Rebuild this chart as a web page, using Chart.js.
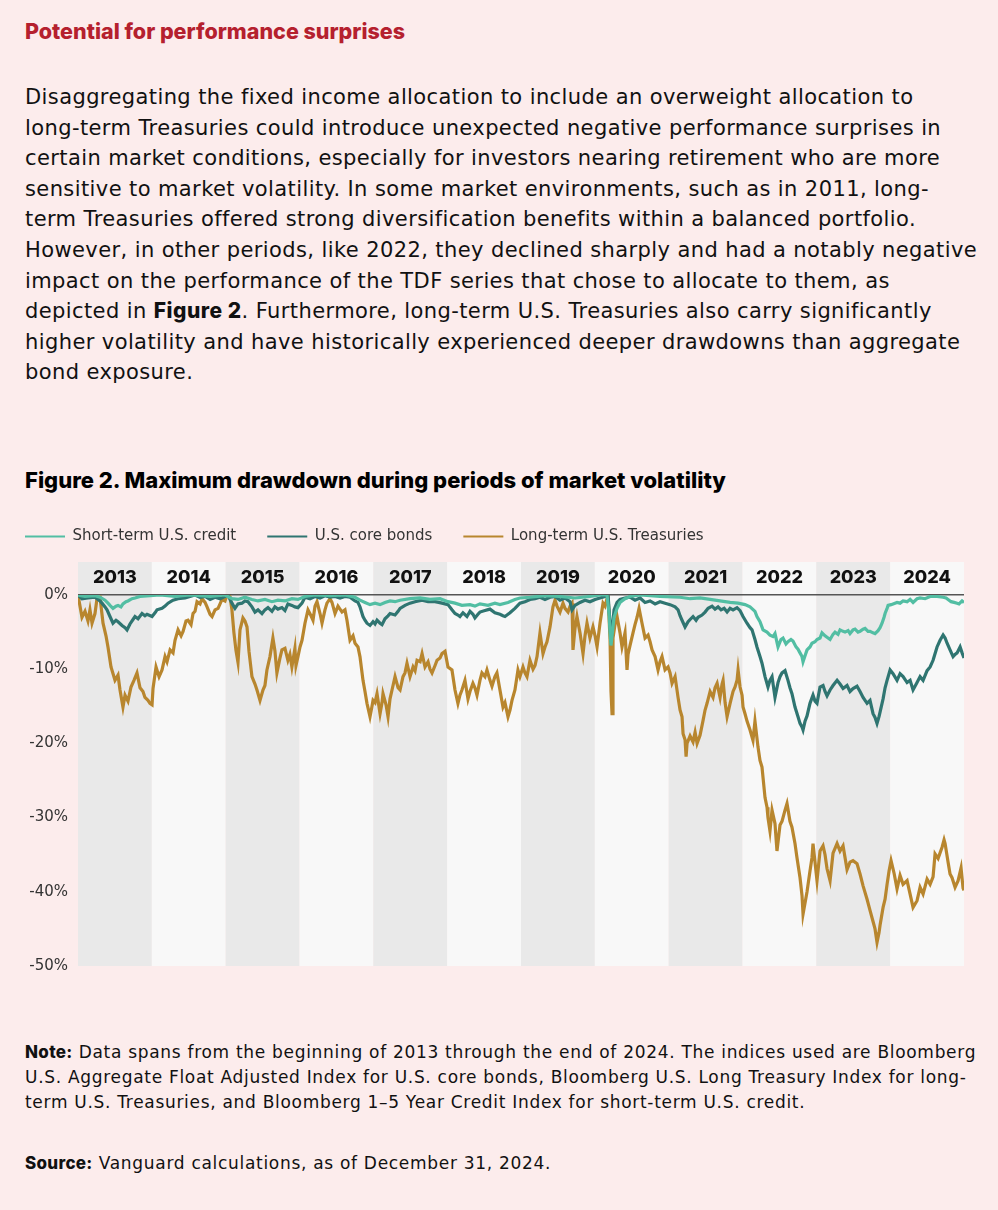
<!DOCTYPE html>
<html>
<head>
<meta charset="utf-8">
<script src="https://cdn.jsdelivr.net/npm/chart.js@4.4.1/dist/chart.umd.min.js"></script>
<style>
  body { margin: 0; width: 998px; height: 1210px; background: #fcecec; font-family: "DejaVu Sans", sans-serif; color: #111; position: relative; overflow: hidden; }
  .heading { position: absolute; left: 25px; top: 18px; font-family: Inter, sans-serif; font-size: 21.5px; line-height: 26px; font-weight: 800; color: #b5202e; }
  .para { position: absolute; left: 25px; top: 82px; font-size: 21px; line-height: 30.6px; letter-spacing: 0.4px; white-space: nowrap; color: #111; }
  .para b { font-family: Inter, sans-serif; font-weight: 800; letter-spacing: 0.5px; }
  .figtitle { position: absolute; left: 25px; top: 467px; font-family: Inter, sans-serif; font-size: 22px; line-height: 26px; font-weight: 800; color: #000; }
  .chartbox { position: absolute; left: -6px; top: 498px; width: 970px; height: 487px; }
  .note { position: absolute; left: 25px; top: 1040px; font-size: 17px; line-height: 25px; letter-spacing: 0.7px; white-space: nowrap; color: #111; }
  .source { position: absolute; left: 25px; top: 1151px; font-size: 17px; line-height: 25px; letter-spacing: 0.7px; color: #111; }
  .note b, .source b { font-family: Inter, sans-serif; font-weight: 800; letter-spacing: 0.3px; }
</style>
</head>
<body>
<div class="heading">Potential for performance surprises</div>
<div class="para">
Disaggregating the fixed income allocation to include an overweight allocation to<br>
long-term Treasuries could introduce unexpected negative performance surprises in<br>
certain market conditions, especially for investors nearing retirement who are more<br>
sensitive to market volatility. In some market environments, such as in 2011, long-<br>
term Treasuries offered strong diversification benefits within a balanced portfolio.<br>
However, in other periods, like 2022, they declined sharply and had a notably negative<br>
impact on the performance of the TDF series that chose to allocate to them, as<br>
depicted in <b>Figure 2</b>. Furthermore, long-term U.S. Treasuries also carry significantly<br>
higher volatility and have historically experienced deeper drawdowns than aggregate<br>
bond exposure.
</div>
<div class="figtitle">Figure 2. Maximum drawdown during periods of market volatility</div>
<div class="chartbox"><canvas id="myChart"></canvas></div>
<div class="note"><b>Note:</b> Data spans from the beginning of 2013 through the end of 2024. The indices used are Bloomberg<br>
U.S. Aggregate Float Adjusted Index for U.S. core bonds, Bloomberg U.S. Long Treasury Index for long-<br>
term U.S. Treasuries, and Bloomberg 1–5 Year Credit Index for short-term U.S. credit.</div>
<div class="source"><b>Source:</b> Vanguard calculations, as of December 31, 2024.</div>

<script>
// year columns shown across the top of the chart
const years = [2013, 2014, 2015, 2016, 2017, 2018, 2019, 2020, 2021, 2022, 2023, 2024];
const yTicks = [0, -10, -20, -30, -40, -50];
const seriesNames = ['Short-term U.S. credit', 'U.S. core bonds', 'Long-term U.S. Treasuries'];
const seriesColors = ['#52bea3', '#2f7571', '#b8862e'];

// drawdown (%), [decimal year, value]
const shortCredit = [
  [2013.000, 0], [2013.095, -0.2], [2013.230, -0.1], [2013.298, -0.3], [2013.366, -0.7], [2013.406, -1.1],
  [2013.433, -1.4], [2013.474, -1.8], [2013.515, -1.5], [2013.542, -1.4], [2013.582, -1.6], [2013.609, -1.2],
  [2013.650, -0.9], [2013.677, -0.8], [2013.731, -0.5], [2013.772, -0.4], [2013.840, -0.2], [2013.975, -0.1],
  [2014.111, 0], [2014.314, -0.2], [2014.517, 0], [2014.789, -0.2], [2014.991, 0],
  [2015.085, -0.5], [2015.167, -0.6], [2015.261, -0.3], [2015.356, -0.6], [2015.438, -0.8], [2015.532, -0.6],
  [2015.627, -0.9], [2015.708, -0.7], [2015.803, -0.8], [2015.897, -0.5], [2015.979, -0.6],
  [2016.074, -0.2], [2016.210, 0], [2016.413, -0.1], [2016.616, 0], [2016.752, -0.3], [2016.819, -0.7],
  [2016.887, -1.0], [2016.955, -1.3], [2017.023, -1.1], [2017.091, -1.3], [2017.158, -1.0], [2017.226, -0.8],
  [2017.294, -0.9], [2017.362, -0.7], [2017.497, -0.5], [2017.633, -0.4], [2017.768, -0.6], [2017.903, -0.5],
  [2018.011, -0.9], [2018.106, -1.1], [2018.200, -1.4], [2018.309, -1.3], [2018.376, -1.5], [2018.444, -1.2],
  [2018.553, -1.4], [2018.647, -1.1], [2018.715, -1.3], [2018.824, -1.0], [2018.918, -0.6], [2018.986, -0.4],
  [2019.122, -0.3], [2019.325, -0.1], [2019.528, -0.2], [2019.731, -0.4], [2019.934, -0.2],
  [2020.070, 0], [2020.165, 0], [2020.192, -2.5], [2020.206, -5.0], [2020.219, -6.8], [2020.233, -5.5],
  [2020.260, -3.0], [2020.301, -1.8], [2020.341, -1.0], [2020.409, -0.5], [2020.477, -0.2], [2020.612, 0],
  [2020.883, -0.2], [2021.154, -0.3], [2021.290, -0.5], [2021.425, -0.4], [2021.561, -0.6], [2021.696, -0.8],
  [2021.832, -1.0], [2021.940, -1.1], [2022.034, -1.3], [2022.102, -1.6], [2022.169, -2.2], [2022.196, -2.9],
  [2022.237, -3.6], [2022.278, -4.7], [2022.332, -5.0], [2022.372, -5.4], [2022.413, -5.6], [2022.440, -5.2],
  [2022.481, -7.0], [2022.521, -6.0], [2022.549, -5.8], [2022.589, -6.6], [2022.616, -6.3], [2022.657, -6.0],
  [2022.684, -6.2], [2022.725, -7.0], [2022.752, -7.3], [2022.779, -7.8], [2022.806, -8.3], [2022.820, -9.0],
  [2022.847, -8.2], [2022.874, -7.4], [2022.914, -7.0], [2022.941, -6.5], [2022.982, -6.3],
  [2023.009, -6.0], [2023.050, -5.8], [2023.077, -5.1], [2023.118, -5.5], [2023.145, -5.7], [2023.186, -6.0],
  [2023.226, -5.3], [2023.253, -5.0], [2023.294, -5.3], [2023.321, -4.7], [2023.362, -4.9], [2023.389, -5.0],
  [2023.430, -4.8], [2023.456, -5.2], [2023.497, -4.7], [2023.524, -4.6], [2023.565, -5.0], [2023.592, -4.9],
  [2023.633, -4.6], [2023.660, -4.5], [2023.700, -4.9], [2023.727, -4.9], [2023.768, -5.1], [2023.795, -5.2],
  [2023.836, -4.8], [2023.863, -4.4], [2023.890, -3.8], [2023.917, -3.0], [2023.931, -2.5], [2023.958, -1.8],
  [2023.972, -1.4], [2024.012, -1.3], [2024.039, -1.2], [2024.093, -1.0], [2024.134, -1.1], [2024.175, -0.8],
  [2024.229, -0.9], [2024.270, -0.6], [2024.310, -1.0], [2024.364, -0.5], [2024.405, -0.4], [2024.473, -0.5],
  [2024.541, -0.2], [2024.635, -0.2], [2024.717, -0.3], [2024.757, -0.4], [2024.784, -0.6], [2024.825, -0.9],
  [2024.866, -1.0], [2024.906, -1.1], [2024.933, -1.2], [2024.974, -0.8], [2025.000, -1.0]
];

const coreBonds = [
  [2013.000, 0], [2013.054, -0.5], [2013.135, -0.4], [2013.230, -0.3], [2013.298, -0.8], [2013.325, -1.1],
  [2013.366, -1.6], [2013.393, -2.0], [2013.433, -2.9], [2013.474, -3.8], [2013.515, -3.4], [2013.542, -3.6],
  [2013.596, -4.1], [2013.637, -4.4], [2013.664, -4.7], [2013.704, -3.9], [2013.745, -3.3], [2013.772, -2.9],
  [2013.813, -3.2], [2013.867, -2.5], [2013.907, -2.8], [2013.935, -2.6], [2014.003, -2.9], [2014.043, -2.4],
  [2014.070, -2.0], [2014.138, -1.8], [2014.179, -1.5], [2014.220, -1.1], [2014.287, -0.7], [2014.355, -0.5],
  [2014.450, -0.4], [2014.517, -0.2], [2014.585, 0], [2014.653, -0.3], [2014.721, -0.2], [2014.789, -0.6],
  [2014.856, -0.3], [2014.924, -0.5], [2014.991, -0.2], [2015.031, 0], [2015.085, -1.1], [2015.126, -1.8],
  [2015.167, -1.2], [2015.221, -1.1], [2015.261, -0.8], [2015.302, -0.9], [2015.356, -1.6], [2015.397, -2.3],
  [2015.438, -2.0], [2015.492, -2.5], [2015.532, -2.0], [2015.573, -1.7], [2015.627, -2.2], [2015.667, -1.6],
  [2015.708, -1.9], [2015.762, -1.7], [2015.803, -2.1], [2015.843, -1.2], [2015.897, -1.4], [2015.938, -1.6],
  [2015.979, -1.7], [2016.034, -1.1], [2016.074, -0.3], [2016.142, -0.5], [2016.210, -0.2], [2016.278, -0.4],
  [2016.345, -0.1], [2016.413, -0.3], [2016.481, -0.2], [2016.549, -0.4], [2016.616, -0.2], [2016.684, -0.3],
  [2016.752, -0.8], [2016.792, -1.0], [2016.819, -1.6], [2016.860, -2.9], [2016.887, -3.4], [2016.914, -3.8],
  [2016.955, -4.1], [2016.996, -3.6], [2017.023, -3.9], [2017.050, -3.4], [2017.091, -3.8], [2017.118, -4.0],
  [2017.158, -3.2], [2017.199, -2.8], [2017.226, -2.5], [2017.294, -2.7], [2017.335, -2.2], [2017.362, -1.8],
  [2017.429, -1.4], [2017.497, -1.1], [2017.565, -0.9], [2017.660, -0.7], [2017.741, -0.9], [2017.836, -0.9],
  [2017.930, -1.1], [2018.011, -1.3], [2018.065, -2.0], [2018.106, -2.5], [2018.146, -2.7], [2018.173, -2.9],
  [2018.214, -2.4], [2018.268, -2.9], [2018.309, -2.2], [2018.349, -2.6], [2018.376, -3.1], [2018.417, -2.6],
  [2018.444, -2.3], [2018.512, -2.1], [2018.580, -1.9], [2018.647, -2.4], [2018.715, -2.6], [2018.756, -2.8],
  [2018.783, -2.9], [2018.824, -2.6], [2018.851, -2.4], [2018.918, -1.8], [2018.986, -1.1], [2019.054, -0.9],
  [2019.122, -0.6], [2019.190, -0.5], [2019.257, -0.3], [2019.325, -0.6], [2019.393, -0.3], [2019.461, -0.2],
  [2019.528, -0.7], [2019.596, -0.4], [2019.664, -0.9], [2019.691, -2.0], [2019.731, -1.4], [2019.799, -1.0],
  [2019.867, -0.7], [2019.934, -0.9], [2020.003, -0.6], [2020.070, -0.4], [2020.138, -0.2], [2020.179, 0],
  [2020.206, -3.8], [2020.219, -6.3], [2020.233, -5.0], [2020.260, -2.0], [2020.301, -1.0], [2020.341, -0.6],
  [2020.409, -0.4], [2020.477, -0.3], [2020.544, -0.7], [2020.612, -0.4], [2020.680, -1.0], [2020.748, -0.8],
  [2020.816, -1.2], [2020.883, -0.9], [2020.951, -1.1], [2021.019, -1.3], [2021.087, -1.6], [2021.127, -2.0],
  [2021.154, -2.8], [2021.181, -3.4], [2021.222, -4.3], [2021.263, -3.6], [2021.290, -3.3], [2021.330, -2.9],
  [2021.371, -3.4], [2021.398, -3.0], [2021.452, -2.7], [2021.493, -2.3], [2021.534, -1.8], [2021.588, -1.5],
  [2021.628, -1.9], [2021.669, -1.6], [2021.710, -2.0], [2021.751, -1.8], [2021.791, -2.3], [2021.832, -1.8],
  [2021.872, -2.0], [2021.926, -1.7], [2021.967, -2.1], [2022.007, -2.9], [2022.061, -3.8], [2022.102, -4.4],
  [2022.129, -4.7], [2022.169, -6.0], [2022.196, -7.0], [2022.237, -8.3], [2022.264, -9.2], [2022.305, -11.0],
  [2022.345, -12.4], [2022.372, -11.5], [2022.400, -11.0], [2022.440, -13.8], [2022.481, -11.8], [2022.508, -11.0],
  [2022.535, -10.5], [2022.576, -10.2], [2022.616, -11.5], [2022.643, -12.5], [2022.670, -13.3], [2022.711, -15.1],
  [2022.752, -16.4], [2022.779, -17.3], [2022.806, -17.8], [2022.820, -18.2], [2022.847, -17.0], [2022.874, -16.3],
  [2022.914, -14.6], [2022.955, -13.5], [2022.982, -14.3], [2023.009, -14.6], [2023.050, -12.4], [2023.091, -12.2],
  [2023.118, -13.0], [2023.145, -13.6], [2023.186, -12.8], [2023.226, -12.2], [2023.281, -11.5], [2023.321, -12.0],
  [2023.362, -12.6], [2023.416, -12.2], [2023.456, -13.0], [2023.497, -12.6], [2023.551, -12.3], [2023.592, -13.0],
  [2023.633, -13.8], [2023.687, -14.6], [2023.727, -14.2], [2023.768, -16.0], [2023.795, -16.5], [2023.822, -17.3],
  [2023.849, -16.4], [2023.863, -15.8], [2023.904, -14.0], [2023.931, -12.5], [2023.958, -11.5], [2023.999, -10.1],
  [2024.039, -10.6], [2024.093, -11.5], [2024.134, -10.6], [2024.175, -11.0], [2024.229, -11.8], [2024.270, -11.5],
  [2024.310, -12.8], [2024.364, -11.8], [2024.405, -11.0], [2024.446, -11.5], [2024.500, -10.2], [2024.541, -9.7],
  [2024.581, -8.8], [2024.635, -7.0], [2024.676, -6.1], [2024.717, -5.4], [2024.744, -5.8], [2024.771, -6.5],
  [2024.811, -7.4], [2024.852, -8.3], [2024.879, -8.0], [2024.906, -7.8], [2024.947, -7.0], [2024.974, -7.8],
  [2025.000, -8.5]
];

const longTreasuries = [
  [2013.000, 0], [2013.027, -1.5], [2013.054, -3.0], [2013.095, -2.2], [2013.135, -3.5], [2013.162, -2.0],
  [2013.190, -3.8], [2013.230, -2.5], [2013.257, -0.5], [2013.298, -0.3], [2013.339, -3.8], [2013.379, -5.5],
  [2013.406, -7.0], [2013.447, -9.7], [2013.501, -11.5], [2013.542, -10.8], [2013.569, -12.8], [2013.609, -15.1],
  [2013.637, -13.5], [2013.677, -14.3], [2013.718, -12.4], [2013.758, -11.5], [2013.799, -10.5], [2013.840, -12.5],
  [2013.880, -13.0], [2013.907, -13.8], [2013.948, -14.2], [2013.975, -14.6], [2014.003, -14.8], [2014.016, -12.6],
  [2014.057, -9.7], [2014.098, -11.0], [2014.138, -10.1], [2014.179, -8.3], [2014.206, -9.0], [2014.247, -7.4],
  [2014.287, -7.8], [2014.314, -6.1], [2014.355, -4.7], [2014.396, -5.5], [2014.423, -4.9], [2014.463, -3.5],
  [2014.490, -3.4], [2014.531, -4.0], [2014.558, -2.5], [2014.585, -2.2], [2014.612, -0.9], [2014.653, -1.2],
  [2014.680, -0.5], [2014.721, -1.0], [2014.748, -1.6], [2014.789, -2.6], [2014.816, -2.9], [2014.856, -2.0],
  [2014.897, -1.8], [2014.951, -0.6], [2014.991, -0.8], [2015.018, 0], [2015.058, -0.2], [2015.085, -2.0],
  [2015.112, -5.1], [2015.140, -7.5], [2015.167, -9.1], [2015.194, -4.7], [2015.234, -3.1], [2015.261, -3.5],
  [2015.289, -4.3], [2015.316, -7.6], [2015.356, -11.0], [2015.397, -12.0], [2015.424, -12.8], [2015.465, -14.2],
  [2015.505, -12.8], [2015.532, -12.2], [2015.559, -10.1], [2015.600, -8.3], [2015.640, -5.8], [2015.667, -7.5],
  [2015.694, -10.5], [2015.735, -8.5], [2015.762, -7.4], [2015.803, -7.2], [2015.843, -8.8], [2015.870, -8.0],
  [2015.897, -9.7], [2015.938, -7.2], [2015.952, -9.5], [2015.979, -8.3], [2016.007, -7.0], [2016.034, -6.1],
  [2016.074, -3.8], [2016.115, -2.0], [2016.156, -2.8], [2016.183, -3.4], [2016.210, -1.5], [2016.237, -0.9],
  [2016.278, -2.5], [2016.305, -3.8], [2016.345, -2.0], [2016.372, -1.1], [2016.413, -0.5], [2016.440, -1.0],
  [2016.481, -2.5], [2016.521, -1.5], [2016.576, -2.3], [2016.616, -2.0], [2016.643, -3.4], [2016.684, -6.1],
  [2016.725, -5.5], [2016.752, -6.5], [2016.792, -7.0], [2016.819, -8.3], [2016.860, -11.5], [2016.887, -13.0],
  [2016.914, -14.6], [2016.955, -16.4], [2016.982, -15.0], [2016.996, -14.2], [2017.023, -14.5], [2017.050, -13.3],
  [2017.091, -16.0], [2017.118, -14.5], [2017.131, -13.3], [2017.172, -14.8], [2017.199, -16.4], [2017.226, -14.0],
  [2017.253, -12.8], [2017.294, -11.0], [2017.335, -12.5], [2017.362, -12.8], [2017.402, -11.0], [2017.429, -10.5],
  [2017.456, -9.2], [2017.497, -11.0], [2017.538, -9.7], [2017.565, -10.2], [2017.592, -8.8], [2017.633, -9.0],
  [2017.660, -7.9], [2017.700, -9.7], [2017.741, -9.0], [2017.768, -10.0], [2017.795, -10.5], [2017.836, -9.5],
  [2017.863, -8.8], [2017.903, -8.5], [2017.930, -7.9], [2017.971, -7.6], [2018.011, -9.7], [2018.065, -10.1],
  [2018.106, -12.8], [2018.146, -14.6], [2018.173, -13.5], [2018.200, -12.8], [2018.241, -11.5], [2018.282, -14.0],
  [2018.309, -13.0], [2018.349, -11.9], [2018.376, -12.5], [2018.404, -13.5], [2018.444, -11.5], [2018.471, -10.5],
  [2018.512, -11.0], [2018.539, -10.1], [2018.580, -11.5], [2018.607, -12.3], [2018.647, -11.0], [2018.674, -10.5],
  [2018.715, -12.8], [2018.756, -15.1], [2018.783, -14.5], [2018.824, -16.4], [2018.851, -15.5], [2018.878, -14.2],
  [2018.918, -12.8], [2018.959, -10.1], [2018.986, -11.0], [2019.027, -9.7], [2019.054, -10.5], [2019.081, -11.0],
  [2019.122, -8.8], [2019.163, -10.0], [2019.190, -9.5], [2019.217, -8.3], [2019.257, -5.1], [2019.298, -7.9],
  [2019.325, -7.0], [2019.352, -6.3], [2019.393, -4.3], [2019.433, -1.6], [2019.461, -0.7], [2019.488, -1.5],
  [2019.528, -2.3], [2019.569, -1.1], [2019.596, -1.8], [2019.637, -2.3], [2019.664, -1.5], [2019.691, -1.1],
  [2019.704, -7.4], [2019.731, -4.5], [2019.758, -2.9], [2019.799, -5.1], [2019.840, -7.9], [2019.867, -5.5],
  [2019.894, -3.8], [2019.934, -5.8], [2019.975, -4.3], [2020.003, -5.5], [2020.030, -7.0], [2020.070, -3.8],
  [2020.111, -1.1], [2020.138, -1.5], [2020.165, -0.5], [2020.179, 0], [2020.206, -6.0], [2020.219, -13.0],
  [2020.233, -16.0], [2020.246, -5.8], [2020.273, -4.0], [2020.301, -2.9], [2020.341, -5.1], [2020.368, -7.0],
  [2020.409, -5.1], [2020.436, -10.1], [2020.450, -8.0], [2020.477, -6.8], [2020.517, -5.1], [2020.544, -4.0],
  [2020.572, -3.0], [2020.599, -1.8], [2020.639, -3.8], [2020.680, -5.8], [2020.721, -5.4], [2020.748, -6.3],
  [2020.775, -7.4], [2020.816, -8.3], [2020.856, -10.1], [2020.883, -9.0], [2020.910, -8.3], [2020.951, -10.1],
  [2020.992, -9.7], [2021.019, -10.5], [2021.046, -11.9], [2021.087, -11.0], [2021.127, -13.8], [2021.154, -15.5],
  [2021.181, -16.4], [2021.195, -18.7], [2021.222, -19.5], [2021.236, -21.8], [2021.249, -20.0], [2021.290, -19.0],
  [2021.330, -19.8], [2021.358, -18.5], [2021.385, -20.0], [2021.425, -18.9], [2021.466, -16.9], [2021.493, -15.5],
  [2021.520, -14.6], [2021.561, -13.0], [2021.601, -13.8], [2021.628, -12.5], [2021.656, -11.9], [2021.696, -13.8],
  [2021.723, -12.0], [2021.737, -11.5], [2021.764, -14.5], [2021.791, -16.4], [2021.832, -14.6], [2021.872, -13.0],
  [2021.899, -12.4], [2021.926, -11.5], [2021.940, -10.1], [2021.967, -12.4], [2021.994, -13.5], [2022.007, -15.1],
  [2022.034, -16.0], [2022.061, -17.0], [2022.102, -18.2], [2022.142, -19.6], [2022.169, -17.0], [2022.210, -20.5],
  [2022.237, -22.3], [2022.264, -23.2], [2022.305, -27.3], [2022.332, -28.6], [2022.345, -30.0], [2022.372, -31.8],
  [2022.400, -29.0], [2022.413, -29.0], [2022.440, -30.8], [2022.467, -34.5], [2022.508, -31.0], [2022.535, -30.5],
  [2022.576, -29.0], [2022.603, -28.1], [2022.643, -30.5], [2022.670, -31.3], [2022.711, -33.5], [2022.738, -35.4],
  [2022.779, -38.1], [2022.806, -40.5], [2022.820, -43.0], [2022.847, -41.5], [2022.874, -40.0], [2022.914, -37.2],
  [2022.941, -35.4], [2022.955, -33.5], [2022.982, -36.0], [2023.009, -38.5], [2023.050, -34.5], [2023.091, -33.8],
  [2023.118, -35.0], [2023.145, -36.9], [2023.186, -38.5], [2023.226, -34.8], [2023.281, -33.5], [2023.321, -34.5],
  [2023.362, -33.8], [2023.416, -37.0], [2023.456, -36.0], [2023.497, -35.8], [2023.551, -36.2], [2023.592, -37.6],
  [2023.633, -39.2], [2023.687, -41.0], [2023.727, -42.5], [2023.768, -44.0], [2023.795, -45.0], [2023.822, -46.8],
  [2023.849, -45.5], [2023.863, -44.5], [2023.904, -42.1], [2023.931, -41.0], [2023.958, -39.0], [2023.985, -37.2],
  [2024.012, -35.8], [2024.053, -37.5], [2024.093, -39.6], [2024.134, -37.8], [2024.175, -39.0], [2024.229, -38.5],
  [2024.270, -40.3], [2024.310, -42.1], [2024.364, -41.2], [2024.405, -39.4], [2024.446, -40.3], [2024.500, -38.3],
  [2024.541, -39.0], [2024.581, -38.0], [2024.608, -34.9], [2024.649, -35.5], [2024.703, -34.0], [2024.730, -33.0],
  [2024.744, -33.5], [2024.784, -36.0], [2024.811, -37.6], [2024.838, -38.1], [2024.879, -39.4], [2024.920, -38.5],
  [2024.960, -36.8], [2024.987, -39.5], [2025.000, -39.8]
];

const FONT = 'Inter, "DejaVu Sans", sans-serif';

// grey/white year columns with the year printed in the header strip
const yearBands = {
  id: 'yearBands',
  beforeDraw(chart) {
    const {ctx, chartArea, scales: {x}} = chart;
    const top = chartArea.top - 33;
    ctx.save();
    years.forEach((yr, i) => {
      const left = x.getPixelForValue(yr);
      const right = x.getPixelForValue(yr + 1);
      ctx.fillStyle = i % 2 === 0 ? '#e9e9e9' : '#f8f8f8';
      ctx.fillRect(left, top, right - left, chartArea.bottom - top);
      ctx.fillStyle = '#111';
      ctx.font = '800 18px ' + FONT;
      ctx.textAlign = 'center';
      ctx.textBaseline = 'middle';
      ctx.fillText(String(yr), (left + right) / 2, top + 16);
    });
    ctx.restore();
  }
};

// fixed legend height so the plot (and year strip) start lower down
const legendSpacer = {
  id: 'legendSpacer',
  beforeInit(chart) {
    const fit = chart.legend.fit;
    chart.legend.fit = function () {
      fit.bind(chart.legend)();
      this.height = 97;
    };
  }
};

const seriesData = [shortCredit, coreBonds, longTreasuries];

const datasets = seriesData.map((pts, i) => ({
  label: seriesNames[i],
  data: pts.map(p => ({x: p[0], y: p[1]})),
  borderColor: seriesColors[i],
  backgroundColor: seriesColors[i],
  borderWidth: 3.2,
  pointRadius: 0,
  tension: 0,
}));

const ctx = document.getElementById('myChart').getContext('2d');

const myChart = new Chart(ctx, {
  type: 'line',
  data: {datasets: datasets},
  options: {
    responsive: true,
    maintainAspectRatio: false,
    animation: false,
    layout: {padding: {left: 0, right: 0, top: 0, bottom: 0}},
    plugins: {
      legend: {
        position: 'top',
        align: 'start',
        labels: {
          usePointStyle: true,
          pointStyle: 'line',
          pointStyleWidth: 40,
          padding: 31,
          color: '#333',
          font: {family: '"DejaVu Sans", sans-serif', size: 15},
          generateLabels(chart) {
            return chart.data.datasets.map((ds, i) => ({
              text: ds.label,
              strokeStyle: ds.borderColor,
              fillStyle: ds.borderColor,
              lineWidth: 2,
              pointStyle: 'line',
              fontColor: '#333',
              datasetIndex: i,
            }));
          }
        }
      },
      tooltip: {enabled: false}
    },
    scales: {
      x: {
        type: 'linear',
        min: 2013,
        max: 2025,
        display: false,
      },
      y: {
        min: -50,
        max: 0,
        afterFit(scale) { scale.width = 84; },
        afterBuildTicks(scale) { scale.ticks = yTicks.map(v => ({value: v})); },
        border: {display: false},
        grid: {
          drawTicks: false,
          lineWidth: 1.5,
          color: c => (c.tick && c.tick.value === 0 ? '#555' : 'rgba(0,0,0,0)'),
        },
        ticks: {
          padding: 10,
          color: '#333',
          font: {family: '"DejaVu Sans", sans-serif', size: 15},
          callback: v => v + '%',
        }
      }
    }
  },
  plugins: [yearBands, legendSpacer]
});
</script>
</body>
</html>
